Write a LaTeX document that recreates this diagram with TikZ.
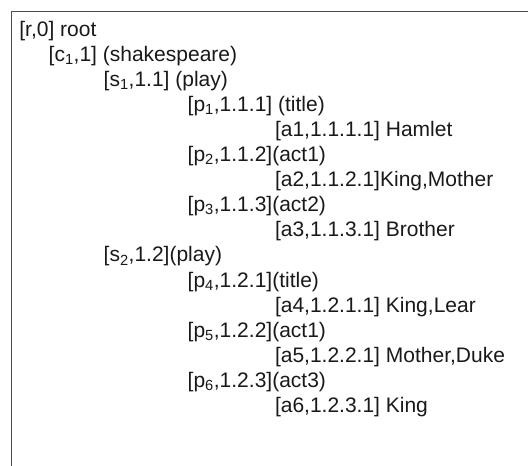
\documentclass[tikz,border=0pt]{standalone}
\usepackage{fontspec}
\setmainfont{Liberation Sans}
\begin{document}
\begin{tikzpicture}[x=1pt,y=-1pt,
  row/.style={anchor=base west,inner sep=0pt,outer sep=0pt,font=\fontsize{21}{25}\selectfont,text=black!90}]
\useasboundingbox (0,0) rectangle (528,466);
\coordinate (bl) at (11,466);
\coordinate (tl) at (11,11.5);
\coordinate (tr) at (528,11.5);
\draw[black!70,line width=1pt] (bl) -- (tl) -- (tr);
\def\pitch{25.1}
\def\yo{36}
\node[row] (r)  at (19.4,\yo+0*\pitch) {[r,0] root};
\node[row] (c1) at (48.7,\yo+1*\pitch) {[c\textsubscript{1},1] (shakespeare)};
\node[row] (s1) at (103.7,\yo+2*\pitch) {[s\textsubscript{1},1.1] (play)};
\node[row] (p1) at (187.7,\yo+3*\pitch) {[p\textsubscript{1},1.1.1] (title)};
\node[row] (a1) at (275,\yo+4*\pitch) {[a1,1.1.1.1] Hamlet};
\node[row] (p2) at (187.7,\yo+5*\pitch) {[p\textsubscript{2},1.1.2](act1)};
\node[row] (a2) at (275,\yo+6*\pitch) {[a2,1.1.2.1]King,Mother};
\node[row] (p3) at (187.7,\yo+7*\pitch) {[p\textsubscript{3},1.1.3](act2)};
\node[row] (a3) at (275,\yo+8*\pitch) {[a3,1.1.3.1] Brother};
\node[row] (s2) at (103.7,\yo+9*\pitch) {[s\textsubscript{2},1.2](play)};
\node[row] (p4) at (187.7,\yo+10*\pitch) {[p\textsubscript{4},1.2.1](title)};
\node[row] (a4) at (275,\yo+11*\pitch) {[a4,1.2.1.1] King,Lear};
\node[row] (p5) at (187.7,\yo+12*\pitch) {[p\textsubscript{5},1.2.2](act1)};
\node[row] (a5) at (275,\yo+13*\pitch) {[a5,1.2.2.1] Mother,Duke};
\node[row] (p6) at (187.7,\yo+14*\pitch) {[p\textsubscript{6},1.2.3](act3)};
\node[row] (a6) at (275,\yo+15*\pitch) {[a6,1.2.3.1] King};
\end{tikzpicture}
\end{document}
